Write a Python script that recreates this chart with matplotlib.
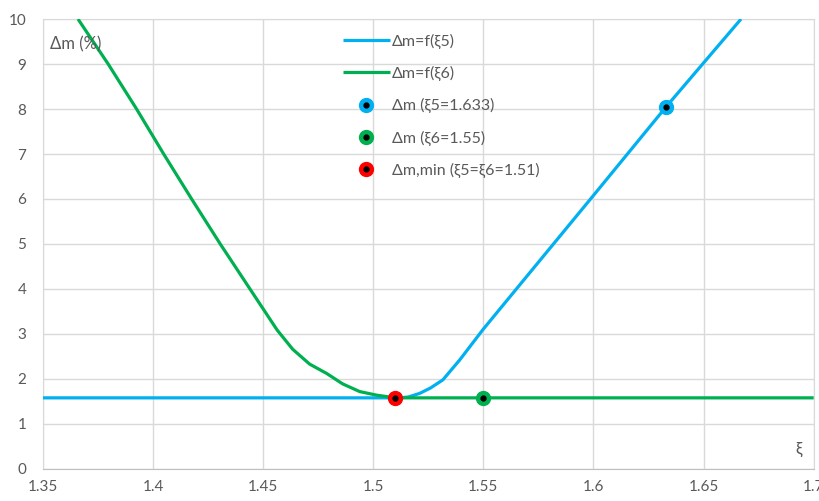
import matplotlib
matplotlib.use("Agg")
import matplotlib.pyplot as plt
from matplotlib.legend_handler import HandlerTuple

plt.rcParams['font.family'] = ['Lato', 'DejaVu Sans']

# data
xi5 = [1.35, 1.45, 1.512, 1.516, 1.5211, 1.526, 1.5316, 1.5392, 1.55,
       1.60, 1.633, 1.667]
dm5 = [1.58, 1.58, 1.58, 1.60, 1.68, 1.80, 1.98, 2.42, 3.11,
       6.08, 8.05, 10.0]
xi6 = [1.3659, 1.3796, 1.3925, 1.4048, 1.4175, 1.4305, 1.4440, 1.4563, 1.4634,
       1.4711, 1.4789, 1.4861, 1.4938, 1.5015, 1.51, 1.55, 1.70]
dm6 = [10.0, 9.0, 8.0, 7.0, 6.0, 5.0, 4.0, 3.09, 2.66,
       2.33, 2.12, 1.89, 1.72, 1.64, 1.58, 1.58, 1.58]
pt5 = (1.633, 8.05)
pt6 = (1.55, 1.58)
ptmin = (1.51, 1.58)
xticks = [1.35, 1.4, 1.45, 1.5, 1.55, 1.6, 1.65, 1.7]
xticklabels = ['1.35', '1.4', '1.45', '1.5', '1.55', '1.6', '1.65', '1.7']
yticks = list(range(0, 11))
labels = ['Δm=f(ξ5)', 'Δm=f(ξ6)', 'Δm (ξ5=1.633)', 'Δm (ξ6=1.55)',
          'Δm,min (ξ5=ξ6=1.51)']

BLUE = '#00B0F0'
GREEN = '#00B050'
RED = '#FF0000'
GRAY = '#595959'

fig = plt.figure(figsize=(8.19, 5.01), dpi=100)
ax = fig.add_axes([0.0525, 0.064, 0.941, 0.898])

l5, = ax.plot(xi5, dm5, color=BLUE, lw=2.3, solid_capstyle='butt',
              solid_joinstyle='round', zorder=3)
l6, = ax.plot(xi6, dm6, color=GREEN, lw=2.3, solid_capstyle='butt',
              solid_joinstyle='round', zorder=3)

def dot(pt, c):
    o, = ax.plot([pt[0]], [pt[1]], 'o', ms=10, color=c, mec=c, zorder=5)
    i, = ax.plot([pt[0]], [pt[1]], 'o', ms=3.5, color='black', mec='black', zorder=6)
    return (o, i)

h5 = dot(pt5, BLUE)
h6 = dot(pt6, GREEN)
hm = dot(ptmin, RED)

ax.set_xlim(1.35, 1.7)
ax.set_ylim(0, 10)
ax.set_xticks(xticks)
ax.set_xticklabels(xticklabels)
ax.set_yticks(yticks)
ax.tick_params(length=0, labelsize=11, colors=GRAY, pad=8)
ax.tick_params(axis='y', pad=12)
ax.grid(True, color='#D9D9D9', lw=1)
ax.set_axisbelow(True)
for s in ax.spines.values():
    s.set_color('#D9D9D9')
ax.spines['bottom'].set_color('#BFBFBF')

ax.text(0.009, 0.962, 'Δm (%)', transform=ax.transAxes, fontsize=12,
        color=GRAY, va='top', ha='left')
ax.text(0.985, 0.025, 'ξ', transform=ax.transAxes, fontsize=12,
        color=GRAY, va='bottom', ha='right')

leg = ax.legend([l5, l6, h5, h6, hm], labels,
                handler_map={tuple: HandlerTuple(ndivide=1, pad=0)},
                loc='upper left', bbox_to_anchor=(0.37, 1.0), frameon=False,
                fontsize=11.5, labelcolor=GRAY, handlelength=3.0,
                handletextpad=0.1, labelspacing=1.08)

fig.savefig('out.png', dpi=100)
